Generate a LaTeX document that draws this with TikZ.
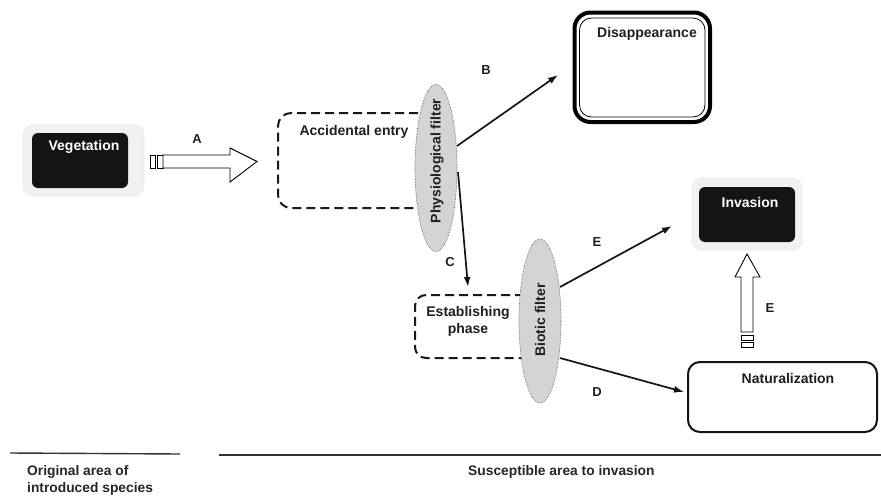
\documentclass[tikz,border=0pt]{standalone}
\usepackage{fontspec}
\setmainfont{Liberation Sans}
\usetikzlibrary{arrows.meta,shapes.geometric}
\definecolor{boxblack}{HTML}{141414}
\definecolor{shade}{HTML}{F1F1F1}
\definecolor{filt}{HTML}{D4D4D4}
\begin{document}
\begin{tikzpicture}[x=1pt,y=-1pt,
  txt/.style={font=\fontsize{14}{17}\selectfont\bfseries, inner sep=0pt, text=black!88},
  wtxt/.style={txt, text=white},
  lbl/.style={font=\fontsize{13}{15}\selectfont\bfseries, inner sep=0pt, text=black!88},
  ntxt/.style={font=\fontsize{13.8}{17.5}\selectfont\bfseries, inner sep=0pt, text=black!85},
  plain/.style={inner sep=0pt, outer sep=0pt},
  lightbox/.style={plain, fill=shade, draw=black!8, line width=0.8pt, rounded corners=10pt},
  blackbox/.style={plain, fill=boxblack, rounded corners=6pt},
  dashbox/.style={plain, draw=black!90, line width=2pt, dash pattern=on 9pt off 5pt, rounded corners=13pt},
  filter/.style={plain, ellipse, fill=filt, draw=black!70, line width=0.6pt, densely dotted},
  conn/.style={line width=1.7pt, draw=black!92, -{Latex[length=10pt,width=7pt]}},
  hollow/.style={draw=black, line width=0.9pt, fill=white}
]
\useasboundingbox (0,0) rectangle (881,498);

% Vegetation
\node[lightbox, minimum width=121pt, minimum height=71pt] (vegO) at (83.5,160.5) {};
\node[blackbox, minimum width=96pt, minimum height=55pt] (veg) at (80,160.5) {};
\node[wtxt] (vegT) at (84,147) {Vegetation};

% Hollow arrow A
\draw[hollow] (150,155) rectangle (155,168);
\draw[hollow] (157,155) rectangle (163,168);
\draw[hollow] (163,155) -- (230,155) -- (230,148) -- (257,161.5) -- (230,182) -- (230,168) -- (163,168) -- cycle;
\node[lbl] (lA) at (197,139) {A};

% Accidental entry
\node[dashbox, minimum width=167pt, minimum height=95pt] (acc) at (361.5,160.5) {};
\node[txt] (accT) at (354,132) {Accidental entry};

% Physiological filter
\node[filter, minimum width=42pt, minimum height=167pt] (phys) at (436,168) {};
\node[txt, rotate=90] (physT) at (437,161) {Physiological filter};

% Disappearance
\node[plain, draw=black, line width=4pt, rounded corners=16pt, minimum width=135.5pt, minimum height=109.5pt] (dis) at (642.25,67.25) {};
\node[plain, draw=black, line width=0.8pt, rounded corners=12pt, minimum width=125.5pt, minimum height=99pt] (disI) at (642.25,67.5) {};
\node[txt, anchor=west] (disT) at (597,34) {Disappearance};

% Establishing phase
\node[dashbox, minimum width=120pt, minimum height=63pt, rounded corners=11pt] (est) at (475,326.5) {};
\node[txt, align=center] (estT) at (468,321) {Establishing\\phase};

% Biotic filter
\node[filter, minimum width=42pt, minimum height=164pt] (bio) at (540,321) {};
\node[txt, rotate=90] (bioT) at (540,320) {Biotic filter};

% Invasion
\node[lightbox, minimum width=110pt, minimum height=72pt] (invO) at (747,214) {};
\node[blackbox, minimum width=96pt, minimum height=55pt] (inv) at (747,214.5) {};
\node[wtxt] (invT) at (750,202) {Invasion};

% Naturalization
\node[plain, draw=black!92, line width=2pt, rounded corners=12pt, minimum width=189pt, minimum height=70pt] (nat) at (782.5,397) {};
\node[txt] (natT) at (788,378) {Naturalization};

% connectors
\coordinate (bS) at (457,146);
\coordinate (bE) at (558,75);
\coordinate (cS) at (458,172);
\coordinate (cE) at (468,287);
\coordinate (eS) at (560,287);
\coordinate (eE) at (672,226);
\coordinate (dS) at (560,358);
\coordinate (dE) at (684,392);
\draw[conn] (bS) -- (bE);
\draw[conn] (cS) -- (cE);
\draw[conn] (eS) -- (eE);
\draw[conn] (dS) -- (dE);
\node[lbl] (lB) at (486,70) {B};
\node[lbl] (lC) at (450,262) {C};
\node[lbl] (lE1) at (597,242) {E};
\node[lbl] (lD) at (597,392) {D};

% Hollow arrow E (vertical)
\draw[hollow] (741,342) rectangle (753,347);
\draw[hollow] (741,335) rectangle (753,340);
\draw[hollow] (741,332) -- (741,277) -- (735,277) -- (747,254) -- (760,277) -- (753,277) -- (753,332) -- cycle;
\node[lbl] (lE2) at (770,308) {E};

% bottom
\coordinate (l1a) at (10,453);
\coordinate (l1b) at (180,454);
\coordinate (l2a) at (219,455);
\coordinate (l2b) at (881,455);
\draw[line width=1.4pt, black!80] (l1a) -- (l1b);
\draw[line width=1.3pt, black!80] (l2a) -- (l2b);
\node[ntxt, anchor=north west, align=left] (orig) at (27,465) {Original area of\\introduced species};
\node[ntxt, anchor=north west] (susc) at (468,465) {Susceptible area to invasion};
\end{tikzpicture}
\end{document}
